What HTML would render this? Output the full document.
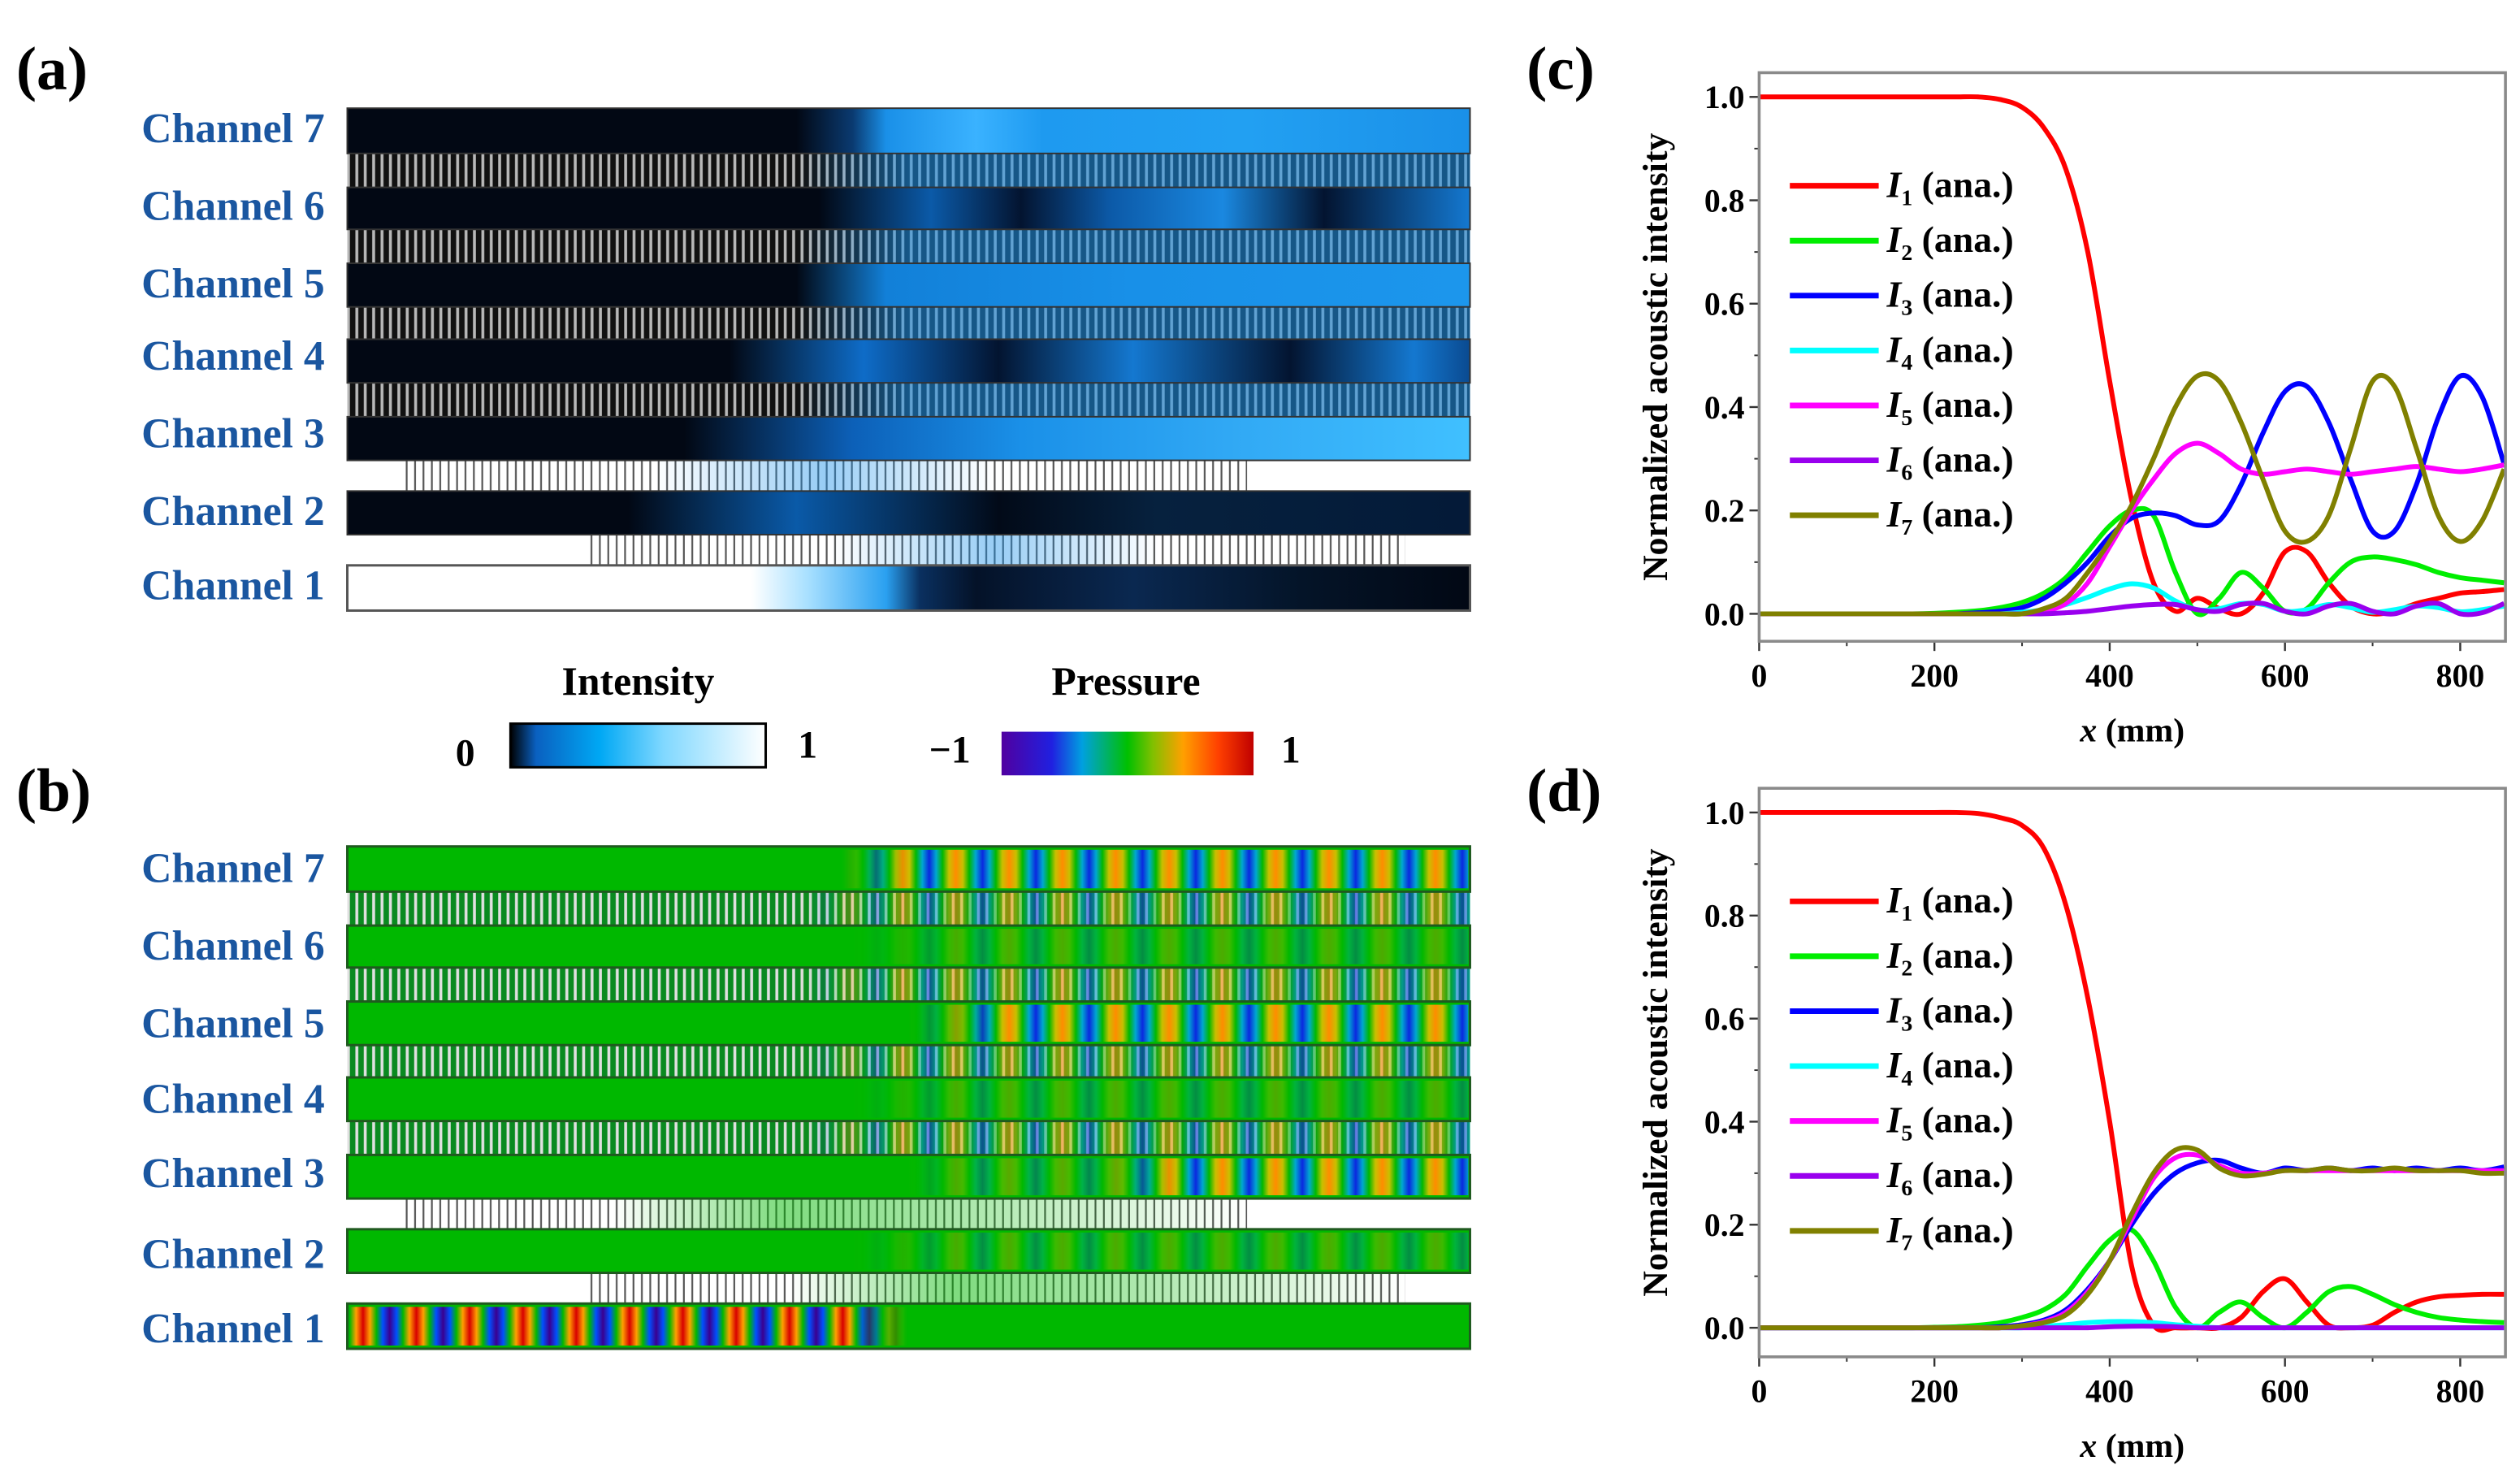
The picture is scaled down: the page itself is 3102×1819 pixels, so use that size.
<!DOCTYPE html>
<html><head><meta charset="utf-8"><style>
html,body{margin:0;padding:0;background:#fff;}
svg{display:block;}
.lbl{font-family:"Liberation Serif",serif;font-weight:bold;}
</style></head><body>
<svg id="fig" xmlns="http://www.w3.org/2000/svg" width="3102" height="1819" viewBox="0 0 1560 915" preserveAspectRatio="none">
<defs>
<pattern id="grDark" patternUnits="userSpaceOnUse" width="5.2" height="20"><rect width="5.2" height="20" fill="#111"/><rect x="1.6" width="1.8" height="20" fill="#b8b8b8"/></pattern>
<pattern id="grWhite" patternUnits="userSpaceOnUse" width="5.2" height="20"><rect width="5.2" height="20" fill="#fff"/><rect x="1.6" width="1.1" height="20" fill="#555"/></pattern>
<pattern id="grGreen" patternUnits="userSpaceOnUse" width="5.2" height="20"><rect width="5.2" height="20" fill="#0a8a20"/><rect x="1.6" width="1.8" height="20" fill="#e0e0e0"/></pattern>
<pattern id="pr" patternUnits="userSpaceOnUse" width="33" height="40" x="6"><rect width="33" height="40" fill="url(#prG)"/></pattern>
<linearGradient id="prG" x1="0" x2="1"><stop offset="0" stop-color="#00b800"/><stop offset=".12" stop-color="#00a8d0"/><stop offset=".25" stop-color="#0a28e0"/><stop offset=".38" stop-color="#00a8d0"/><stop offset=".5" stop-color="#00b800"/><stop offset=".62" stop-color="#c8c000"/><stop offset=".75" stop-color="#ff8c00"/><stop offset=".88" stop-color="#c8c000"/><stop offset="1" stop-color="#00b800"/></linearGradient>
<pattern id="pr1" patternUnits="userSpaceOnUse" width="33" height="40" x="2"><rect width="33" height="40" fill="url(#prG1)"/></pattern>
<linearGradient id="prG1" x1="0" x2="1"><stop offset="0" stop-color="#00b800"/><stop offset=".12" stop-color="#0050ff"/><stop offset=".25" stop-color="#3a0090"/><stop offset=".38" stop-color="#0050ff"/><stop offset=".5" stop-color="#00b800"/><stop offset=".62" stop-color="#ffa000"/><stop offset=".75" stop-color="#d80000"/><stop offset=".88" stop-color="#ffa000"/><stop offset="1" stop-color="#00b800"/></linearGradient>
<linearGradient id="i7" x1="0" x2="1"><stop offset="0" stop-color="#020814"/><stop offset=".40" stop-color="#020814"/><stop offset=".45" stop-color="#0a3a70"/><stop offset=".48" stop-color="#1a90e8"/><stop offset=".56" stop-color="#3ab2ff"/><stop offset=".62" stop-color="#1e9af0"/><stop offset=".8" stop-color="#22a0f2"/><stop offset="1" stop-color="#1a90e8"/></linearGradient>
<linearGradient id="i6" x1="0" x2="1"><stop offset="0" stop-color="#020814"/><stop offset=".42" stop-color="#020814"/><stop offset=".52" stop-color="#0b5aa8"/><stop offset=".6" stop-color="#031430"/><stop offset=".68" stop-color="#0c5aa8"/><stop offset=".78" stop-color="#1a88e0"/><stop offset=".87" stop-color="#031430"/><stop offset="1" stop-color="#1478d0"/></linearGradient>
<linearGradient id="i5" x1="0" x2="1"><stop offset="0" stop-color="#020814"/><stop offset=".40" stop-color="#020814"/><stop offset=".48" stop-color="#1280d8"/><stop offset=".7" stop-color="#1890e8"/><stop offset="1" stop-color="#1c96ec"/></linearGradient>
<linearGradient id="i4" x1="0" x2="1"><stop offset="0" stop-color="#020814"/><stop offset=".34" stop-color="#020814"/><stop offset=".46" stop-color="#0e6cc8"/><stop offset=".58" stop-color="#031430"/><stop offset=".7" stop-color="#1478d0"/><stop offset=".84" stop-color="#031430"/><stop offset=".95" stop-color="#1478d0"/><stop offset="1" stop-color="#0a4a90"/></linearGradient>
<linearGradient id="i3" x1="0" x2="1"><stop offset="0" stop-color="#020814"/><stop offset=".3" stop-color="#020814"/><stop offset=".45" stop-color="#0c60b8"/><stop offset=".6" stop-color="#1a90e8"/><stop offset=".8" stop-color="#32aaf5"/><stop offset="1" stop-color="#40c0ff"/></linearGradient>
<linearGradient id="i2" x1="0" x2="1"><stop offset="0" stop-color="#020814"/><stop offset=".25" stop-color="#020814"/><stop offset=".4" stop-color="#0a5aa8"/><stop offset=".58" stop-color="#020a18"/><stop offset=".72" stop-color="#06213e"/><stop offset="1" stop-color="#041a38"/></linearGradient>
<linearGradient id="i1" x1="0" x2="1"><stop offset="0" stop-color="#ffffff"/><stop offset=".36" stop-color="#ffffff"/><stop offset=".41" stop-color="#a8e0ff"/><stop offset=".48" stop-color="#2aa0f0"/><stop offset=".51" stop-color="#0a3060"/><stop offset=".56" stop-color="#041228"/><stop offset=".7" stop-color="#0a2850"/><stop offset=".85" stop-color="#041428"/><stop offset="1" stop-color="#020814"/></linearGradient>
<linearGradient id="gblue" x1="0" x2="1"><stop offset="0" stop-color="#1a90e8" stop-opacity="0"/><stop offset=".4" stop-color="#1a90e8" stop-opacity="0"/><stop offset=".5" stop-color="#1a90e8" stop-opacity=".55"/><stop offset="1" stop-color="#1a90e8" stop-opacity=".55"/></linearGradient>
<linearGradient id="gblue2" x1="0" x2="1"><stop offset="0" stop-color="#1a90e8" stop-opacity="0"/><stop offset=".3" stop-color="#1a90e8" stop-opacity=".0"/><stop offset=".5" stop-color="#1a90e8" stop-opacity=".45"/><stop offset=".7" stop-color="#1a90e8" stop-opacity="0"/><stop offset="1" stop-color="#1a90e8" stop-opacity="0"/></linearGradient>
<linearGradient id="gwhiteG" x1="0" x2="1"><stop offset="0" stop-color="#00b800" stop-opacity="0"/><stop offset=".25" stop-color="#00b800" stop-opacity="0"/><stop offset=".45" stop-color="#00b800" stop-opacity=".5"/><stop offset=".7" stop-color="#00b800" stop-opacity=".3"/><stop offset="1" stop-color="#00b800" stop-opacity="0"/></linearGradient>
<linearGradient id="cbI" x1="0" x2="1"><stop offset="0" stop-color="#000"/><stop offset=".1" stop-color="#0a60c0"/><stop offset=".35" stop-color="#00a8f4"/><stop offset=".6" stop-color="#80d8ff"/><stop offset="1" stop-color="#fff"/></linearGradient>
<linearGradient id="cbP" x1="0" x2="1"><stop offset="0" stop-color="#5000a0"/><stop offset=".2" stop-color="#2020e0"/><stop offset=".32" stop-color="#00a0e0"/><stop offset=".5" stop-color="#00c000"/><stop offset=".6" stop-color="#80c000"/><stop offset=".72" stop-color="#ffa000"/><stop offset=".86" stop-color="#ff4000"/><stop offset="1" stop-color="#c00000"/></linearGradient>
<linearGradient id="m7" x1="0" x2="1"><stop offset="0" stop-color="#fff" stop-opacity="0"/><stop offset=".44" stop-color="#fff" stop-opacity="0"/><stop offset=".5" stop-color="#fff" stop-opacity="1"/><stop offset="1" stop-color="#fff" stop-opacity="1"/></linearGradient>
<linearGradient id="m5" x1="0" x2="1"><stop offset="0" stop-color="#fff" stop-opacity="0"/><stop offset=".5" stop-color="#fff" stop-opacity="0"/><stop offset=".58" stop-color="#fff" stop-opacity="1"/><stop offset="1" stop-color="#fff" stop-opacity="1"/></linearGradient>
<linearGradient id="m3" x1="0" x2="1"><stop offset="0" stop-color="#fff" stop-opacity="0"/><stop offset=".5" stop-color="#fff" stop-opacity="0"/><stop offset=".55" stop-color="#fff" stop-opacity=".35"/><stop offset=".68" stop-color="#fff" stop-opacity=".35"/><stop offset=".74" stop-color="#fff" stop-opacity="1"/><stop offset="1" stop-color="#fff" stop-opacity="1"/></linearGradient>
<linearGradient id="mf" x1="0" x2="1"><stop offset="0" stop-color="#fff" stop-opacity="0"/><stop offset=".45" stop-color="#fff" stop-opacity="0"/><stop offset=".55" stop-color="#fff" stop-opacity=".3"/><stop offset="1" stop-color="#fff" stop-opacity=".3"/></linearGradient>
<linearGradient id="mg" x1="0" x2="1"><stop offset="0" stop-color="#fff" stop-opacity="0"/><stop offset=".4" stop-color="#fff" stop-opacity="0"/><stop offset=".5" stop-color="#fff" stop-opacity=".55"/><stop offset="1" stop-color="#fff" stop-opacity=".6"/></linearGradient>
<linearGradient id="m1" x1="0" x2="1"><stop offset="0" stop-color="#fff" stop-opacity="1"/><stop offset=".45" stop-color="#fff" stop-opacity="1"/><stop offset=".5" stop-color="#fff" stop-opacity="0"/><stop offset="1" stop-color="#fff" stop-opacity="0"/></linearGradient>
<mask id="mk7" maskContentUnits="objectBoundingBox"><rect width="1" height="1" fill="url(#m7)"/></mask>
<mask id="mk5" maskContentUnits="objectBoundingBox"><rect width="1" height="1" fill="url(#m5)"/></mask>
<mask id="mk3" maskContentUnits="objectBoundingBox"><rect width="1" height="1" fill="url(#m3)"/></mask>
<mask id="mkf" maskContentUnits="objectBoundingBox"><rect width="1" height="1" fill="url(#mf)"/></mask>
<mask id="mkg" maskContentUnits="objectBoundingBox"><rect width="1" height="1" fill="url(#mg)"/></mask>
<mask id="mk1" maskContentUnits="objectBoundingBox"><rect width="1" height="1" fill="url(#m1)"/></mask>
</defs>

<text class="lbl" x="10" y="55" font-size="38">(a)</text>
<text class="lbl" x="10" y="502" font-size="38">(b)</text>
<text class="lbl" x="945" y="55" font-size="38">(c)</text>
<text class="lbl" x="945" y="502" font-size="38">(d)</text>

<g>
 <rect x="215" y="95" width="695" height="21" fill="url(#grDark)"/>
 <rect x="215" y="95" width="695" height="21" fill="url(#gblue)"/>
 <rect x="215" y="142" width="695" height="21" fill="url(#grDark)"/>
 <rect x="215" y="142" width="695" height="21" fill="url(#gblue)"/>
 <rect x="215" y="190" width="695" height="20" fill="url(#grDark)"/>
 <rect x="215" y="190" width="695" height="20" fill="url(#gblue)"/>
 <rect x="215" y="237" width="695" height="21" fill="url(#grDark)"/>
 <rect x="215" y="237" width="695" height="21" fill="url(#gblue)"/>
 <rect x="248" y="285" width="524" height="19" fill="url(#grWhite)"/>
 <rect x="248" y="285" width="524" height="19" fill="url(#gblue2)"/>
 <rect x="362" y="331" width="508" height="19" fill="url(#grWhite)"/>
 <rect x="362" y="331" width="508" height="19" fill="url(#gblue2)"/>
 <rect x="215" y="67" width="695" height="28" fill="url(#i7)" stroke="#333" stroke-width="1"/>
 <rect x="215" y="116" width="695" height="26" fill="url(#i6)" stroke="#333" stroke-width="1"/>
 <rect x="215" y="163" width="695" height="27" fill="url(#i5)" stroke="#333" stroke-width="1"/>
 <rect x="215" y="210" width="695" height="27" fill="url(#i4)" stroke="#333" stroke-width="1"/>
 <rect x="215" y="258" width="695" height="27" fill="url(#i3)" stroke="#333" stroke-width="1"/>
 <rect x="215" y="304" width="695" height="27" fill="url(#i2)" stroke="#333" stroke-width="1"/>
 <rect x="215" y="350" width="695" height="28" fill="url(#i1)" stroke="#555" stroke-width="1.5"/>
</g>
<g class="lbl" font-size="26" fill="#1a56a0" text-anchor="end">
 <text x="201" y="88">Channel 7</text>
 <text x="201" y="136">Channel 6</text>
 <text x="201" y="184">Channel 5</text>
 <text x="201" y="229">Channel 4</text>
 <text x="201" y="277">Channel 3</text>
 <text x="201" y="325">Channel 2</text>
 <text x="201" y="371">Channel 1</text>
</g>

<g>
 <text class="lbl" x="395" y="430" font-size="25" text-anchor="middle">Intensity</text>
 <rect x="316" y="448" width="158" height="27" fill="url(#cbI)" stroke="#000" stroke-width="1.5"/>
 <text class="lbl" x="288" y="474" font-size="24" text-anchor="middle">0</text>
 <text class="lbl" x="500" y="469" font-size="24" text-anchor="middle">1</text>
</g>
<g>
 <text class="lbl" x="697" y="430" font-size="25" text-anchor="middle">Pressure</text>
 <rect x="620" y="453" width="156" height="27" fill="url(#cbP)"/>
 <text class="lbl" x="588" y="472" font-size="24" text-anchor="middle">−1</text>
 <text class="lbl" x="799" y="472" font-size="24" text-anchor="middle">1</text>
</g>

<g transform="translate(0,457)">
 <rect x="215" y="95" width="695" height="21" fill="url(#grGreen)"/>
 <rect x="215" y="95" width="695" height="21" fill="url(#pr)" mask="url(#mkg)"/>
 <rect x="215" y="142" width="695" height="21" fill="url(#grGreen)"/>
 <rect x="215" y="142" width="695" height="21" fill="url(#pr)" mask="url(#mkg)"/>
 <rect x="215" y="190" width="695" height="20" fill="url(#grGreen)"/>
 <rect x="215" y="190" width="695" height="20" fill="url(#pr)" mask="url(#mkg)"/>
 <rect x="215" y="237" width="695" height="21" fill="url(#grGreen)"/>
 <rect x="215" y="237" width="695" height="21" fill="url(#pr)" mask="url(#mkg)"/>
 <rect x="248" y="285" width="524" height="19" fill="url(#grWhite)"/>
 <rect x="248" y="285" width="524" height="19" fill="url(#gwhiteG)"/>
 <rect x="362" y="331" width="508" height="19" fill="url(#grWhite)"/>
 <rect x="362" y="331" width="508" height="19" fill="url(#gwhiteG)"/>
 <g stroke="#1f5a1f" stroke-width="1.5">
  <rect x="215" y="67" width="695" height="28" fill="#00b800"/>
  <rect x="215" y="116" width="695" height="26" fill="#00b800"/>
  <rect x="215" y="163" width="695" height="27" fill="#00b800"/>
  <rect x="215" y="210" width="695" height="27" fill="#00b800"/>
  <rect x="215" y="258" width="695" height="27" fill="#00b800"/>
  <rect x="215" y="304" width="695" height="27" fill="#00b800"/>
  <rect x="215" y="350" width="695" height="28" fill="#00b800"/>
 </g>
 <rect x="216" y="69" width="693" height="24" fill="url(#pr)" mask="url(#mk7)"/>
 <rect x="216" y="118" width="693" height="22" fill="url(#pr)" mask="url(#mkf)"/>
 <rect x="216" y="165" width="693" height="23" fill="url(#pr)" mask="url(#mk5)"/>
 <rect x="216" y="212" width="693" height="23" fill="url(#pr)" mask="url(#mkf)"/>
 <rect x="216" y="260" width="693" height="23" fill="url(#pr)" mask="url(#mk3)"/>
 <rect x="216" y="306" width="693" height="23" fill="url(#pr)" mask="url(#mkf)"/>
 <rect x="216" y="352" width="693" height="24" fill="url(#pr1)" mask="url(#mk1)"/>
</g>
<g class="lbl" font-size="26" fill="#1a56a0" text-anchor="end">
 <text x="201" y="546">Channel 7</text>
 <text x="201" y="594">Channel 6</text>
 <text x="201" y="642">Channel 5</text>
 <text x="201" y="689">Channel 4</text>
 <text x="201" y="735">Channel 3</text>
 <text x="201" y="785">Channel 2</text>
 <text x="201" y="831">Channel 1</text>
</g>
<g id="charts"></g>
</svg>
<script>
const xGrid = [0,25,50,75,100,125,150,175,200,225,250,275,300,325,350,375,400,425,450,475,500,525,550,575,600,625,650,675,700,725,750,775,800,825,850];
const xTicks = [0,200,400,600,800];
const yTicks = [0.0,0.2,0.4,0.6,0.8,1.0];
const seriesNames = ["1","2","3","4","5","6","7"];
const seriesColors = ["#ff0000","#00ee00","#0000ff","#00ffff","#ff00ff","#9900ee","#808000"];
const c_I1 = [1,1,1,1,1,1,1,1,1,1,1,.995,.98,.94,.86,.70,.45,.22,.06,.005,.03,.01,0,.04,.12,.12,.06,.015,0,.005,.02,.03,.04,.043,.047];
const c_I2 = [0,0,0,0,0,0,0,0,.001,.003,.006,.012,.022,.04,.07,.12,.17,.2,.19,.08,0,.03,.08,.05,.005,.01,.06,.1,.11,.105,.095,.08,.07,.065,.06];
const c_I3 = [0,0,0,0,0,0,0,0,0,0,.002,.005,.012,.03,.06,.1,.15,.185,.195,.19,.172,.18,.25,.35,.43,.44,.37,.26,.16,.16,.25,.38,.46,.42,.29];
const c_I4 = [0,0,0,0,0,0,0,0,0,0,0,0,.003,.008,.018,.032,.048,.058,.05,.025,.008,.01,.02,.018,.005,.008,.018,.012,.003,.008,.015,.012,.004,.008,.015];
const c_I5 = [0,0,0,0,0,0,0,0,0,0,0,0,0,.005,.02,.06,.13,.2,.26,.31,.33,.31,.28,.27,.275,.28,.275,.27,.275,.28,.285,.28,.275,.28,.288];
const c_I6 = [0,0,0,0,0,0,0,0,0,0,0,0,0,0,.002,.005,.01,.015,.018,.018,.008,.005,.018,.02,.005,0,.015,.02,.005,0,.015,.02,0,.002,.02];
const c_I7 = [0,0,0,0,0,0,0,0,0,0,0,0,0,.01,.03,.08,.14,.21,.3,.4,.46,.45,.37,.26,.16,.14,.19,.32,.45,.44,.32,.19,.14,.18,.28];
const d_I1 = [1,1,1,1,1,1,1,1,1,1,.998,.99,.975,.93,.82,.64,.40,.12,.005,0,0,0,.02,.07,.095,.05,.005,0,.005,.03,.05,.06,.063,.065,.065];
const d_I2 = [0,0,0,0,0,0,0,0,.001,.002,.005,.01,.02,.035,.065,.12,.17,.19,.13,.04,0,.03,.05,.02,0,.03,.07,.08,.065,.045,.03,.02,.015,.012,.01];
const d_I3 = [0,0,0,0,0,0,0,0,0,0,0,.002,.006,.015,.035,.075,.13,.2,.26,.3,.32,.325,.31,.3,.31,.305,.31,.305,.31,.305,.31,.305,.31,.305,.312];
const d_I4 = [0,0,0,0,0,0,0,0,0,0,0,0,0,.003,.006,.01,.012,.012,.01,.006,.003,0,0,0,0,0,0,0,0,0,0,0,0,0,0];
const d_I5 = [0,0,0,0,0,0,0,0,0,0,0,0,.004,.012,.03,.07,.13,.21,.29,.33,.335,.315,.3,.3,.305,.305,.305,.305,.305,.305,.305,.305,.305,.305,.305];
const d_I6 = [0,0,0,0,0,0,0,0,0,0,0,0,0,0,0,0,.002,.003,.003,.002,0,0,0,0,0,0,0,0,0,0,0,0,0,0,0];
const d_I7 = [0,0,0,0,0,0,0,0,0,0,0,0,.004,.01,.025,.065,.13,.22,.3,.345,.345,.31,.295,.298,.305,.305,.31,.305,.305,.31,.305,.305,.305,.30,.30];

const NS = "http://www.w3.org/2000/svg";
function mk(tag, attrs, parent){const e=document.createElementNS(NS,tag);for(const k in attrs)e.setAttribute(k,attrs[k]);parent.appendChild(e);return e;}
function smooth(pts){let d="M"+pts[0][0].toFixed(2)+","+pts[0][1].toFixed(2);
 for(let i=0;i<pts.length-1;i++){const p0=pts[Math.max(0,i-1)],p1=pts[i],p2=pts[i+1],p3=pts[Math.min(pts.length-1,i+2)];
  const c1=[p1[0]+(p2[0]-p0[0])/6,p1[1]+(p2[1]-p0[1])/6],c2=[p2[0]-(p3[0]-p1[0])/6,p2[1]-(p3[1]-p1[1])/6];
  d+=" C"+c1[0].toFixed(2)+","+c1[1].toFixed(2)+" "+c2[0].toFixed(2)+","+c2[1].toFixed(2)+" "+p2[0].toFixed(2)+","+p2[1].toFixed(2);}
 return d;}
const root=document.getElementById("charts");
function drawChart(id, top, y1, y0, series){
 const L=1089,R=1551,B=top+352;
 const xs=v=>L+v*0.5425;
 const ys=v=>y0+(y1-y0)*v;
 const g=mk("g",{},root);
 
 
 const clip=mk("clipPath",{id:"clip"+id},g);mk("rect",{x:L,y:top,width:R-L,height:B-top},clip);
 yTicks.forEach(t=>{
  const tk=mk("line",{x1:L-6,x2:L,y1:ys(t),y2:ys(t),stroke:"#333","stroke-width":1.2},g);
  
  
  const tx=mk("text",{x:L-9,y:ys(t)+7,"font-size":20,"text-anchor":"end","class":"lbl"},g);
  tx.textContent=t.toFixed(1);
  
  
  if(t<1){
   const mt=mk("line",{x1:L-3,x2:L,y1:ys(t+0.1),y2:ys(t+0.1),stroke:"#333","stroke-width":1},g);
   
   
  }
 });
 xTicks.forEach(t=>{
  const tk=mk("line",{x1:xs(t),x2:xs(t),y1:B,y2:B+6,stroke:"#333","stroke-width":1.2},g);
  
  
  if(t+100<=850){
   const mt=mk("line",{x1:xs(t+100),x2:xs(t+100),y1:B,y2:B+3,stroke:"#333","stroke-width":1},g);
   
   
  }
  const tx=mk("text",{x:xs(t),y:B+28,"font-size":20,"text-anchor":"middle","class":"lbl"},g);
  tx.textContent=String(t);
  
  
 });
 const xt=mk("text",{x:(L+R)/2,y:B+62,"font-size":21,"text-anchor":"middle","class":"lbl"},g);
 xt.innerHTML='<tspan font-style="italic">x</tspan> (mm)';
 
 
 const cy=(top+B)/2;
 const yt=mk("text",{x:1032,y:cy,"font-size":22,"text-anchor":"middle","class":"lbl",transform:"rotate(-90 1032 "+cy+")"},g);
 yt.textContent="Normalized acoustic intensity";
 
 
 const lg=mk("g",{"clip-path":"url(#clip"+id+")"},g);
 series.forEach((s,k)=>{
  const pts=xGrid.map((x,i)=>[xs(x),ys(s[i])]);
  const p=mk("path",{d:smooth(pts),fill:"none",stroke:seriesColors[k],"stroke-width":3,"stroke-linejoin":"round"},lg);
  
  
 });
 const fr=mk("rect",{x:L,y:top,width:R-L,height:B-top,fill:"none",stroke:"#8a8a8a","stroke-width":1.8},g);
 
 
 seriesNames.forEach((n,k)=>{
  const ly=top+70+k*34;
  const ll=mk("line",{x1:1108,x2:1163,y1:ly,y2:ly,stroke:seriesColors[k],"stroke-width":3.5},g);
  
  
  const lt=mk("text",{x:1168,y:ly+7,"font-size":23,"class":"lbl"},g);
  lt.innerHTML='<tspan font-style="italic">I</tspan><tspan font-size="14" dy="5">'+n+'</tspan><tspan dy="-5"> (ana.)</tspan>';
  
  
 });
}
drawChart("c",45,60,380,[c_I1,c_I2,c_I3,c_I4,c_I5,c_I6,c_I7]);
drawChart("d",488,503,822,[d_I1,d_I2,d_I3,d_I4,d_I5,d_I6,d_I7]);
</script>
</body></html>
